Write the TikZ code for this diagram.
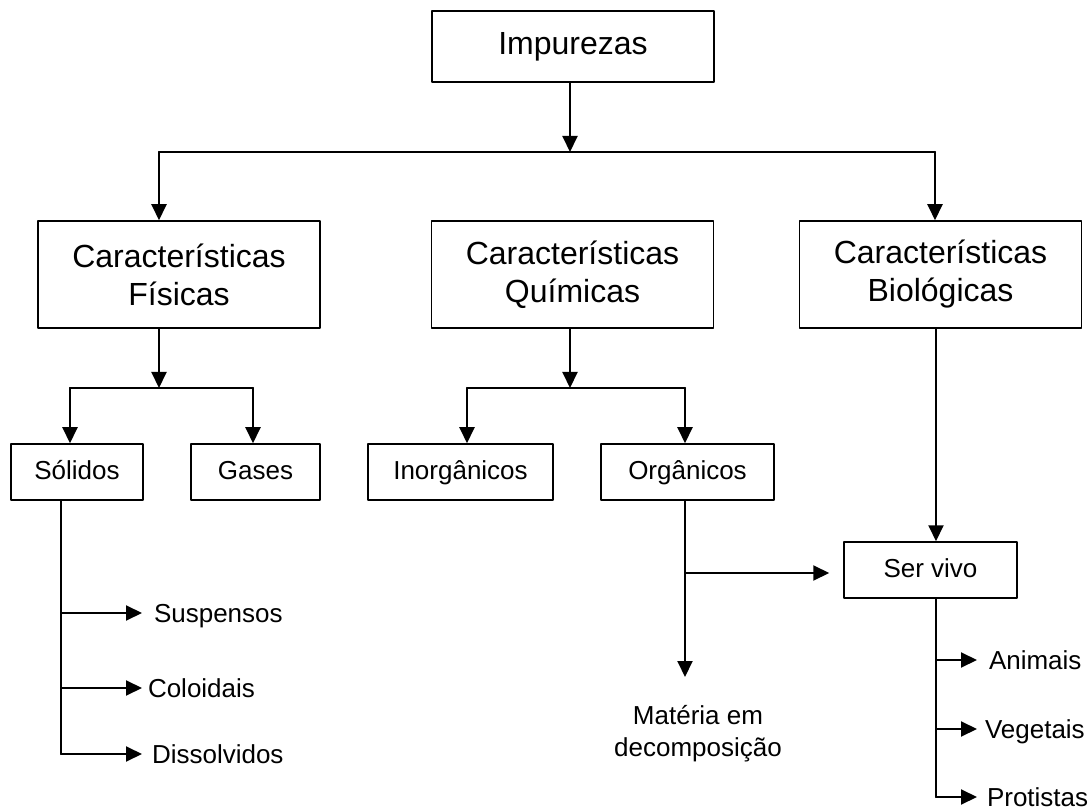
\documentclass[tikz,border=0pt]{standalone}
\usepackage{fontspec}
\setmainfont{Liberation Sans}
\usetikzlibrary{arrows.meta, calc}
\tikzset{
caixa/.style={draw, line width=1.5pt, inner sep=0pt, align=center},
grande/.style={caixa, minimum width=282pt, minimum height=107pt, font=\fontsize{32}{38}\selectfont},
pequena/.style={caixa, minimum height=56pt, text height=19pt, text depth=5pt},
folha/.style={anchor=west, inner sep=0pt, text height=19pt, text depth=0pt}
}
\begin{document}
\begin{tikzpicture}[x=1pt,y=-1pt,line join=round,line cap=round,line width=2pt,>={Triangle[length=16pt,width=15pt]},font=\fontsize{26}{32}\selectfont]
\useasboundingbox (0,0) rectangle (1088,810);
\path
(570,152) coordinate (J)
(159,152) coordinate (JF)
(935,152) coordinate (JB)
(159,388) coordinate (F)
(70,388) coordinate (FS)
(253,388) coordinate (FG)
(570,388) coordinate (Q)
(467,388) coordinate (QI)
(685,388) coordinate (QO)
(61,0) coordinate (ts)
(685,573) coordinate (to)
(685,677) coordinate (tm)
(936,0) coordinate (tv)
;
\node[grande, minimum height=71pt] (imp) at (573,46.5) {Impurezas};
\node[grande] (fis) at (179,274.5) {Características\\Físicas};
\node[grande] (qui) at (572.5,274.5) {Características\\Químicas};
\node[grande] (bio) at (940.5,274.5) {Características\\Biológicas};
\node[pequena, minimum width=132pt] (sol) at (77,472) {Sólidos};
\node[pequena, minimum width=129pt] (gas) at (255.5,472) {Gases};
\node[pequena, minimum width=185pt] (ino) at (460.5,472) {Inorgânicos};
\node[pequena, minimum width=173pt] (org) at (687.5,472) {Orgânicos};
\node[pequena, minimum width=173pt] (sv) at (930.5,570) {Ser vivo};
\node[align=center, anchor=north, inner sep=0pt] (mat) at (698,704) {Matéria em\\decomposição};
\draw[->] (imp.south -| J) -- (J);
\draw (JF) -- (JB);
\draw[->] (JF) -- (JF |- fis.north);
\draw[->] (JB) -- (JB |- bio.north);
\draw[->] (fis.south -| F) -- (F);
\draw (FS) -- (FG);
\draw[->] (FS) -- (FS |- sol.north);
\draw[->] (FG) -- (FG |- gas.north);
\draw[->] (qui.south -| Q) -- (Q);
\draw (QI) -- (QO);
\draw[->] (QI) -- (QI |- ino.north);
\draw[->] (QO) -- (QO |- org.north);
\draw[->] (org.south -| to) -- (tm);
\draw[->, shorten >=14pt] (to) -- (to -| sv.west);
\draw[->] (bio.south -| tv) -- (tv |- sv.north);
\draw (sol.south -| ts) -- (ts |- 0,754);
\foreach \y/\d/\txt in {613/11/Suspensos,688/5/Coloidais,754/9/Dissolvidos}
{\draw[->] (ts |- 0,\y) -- (142,\y) coordinate (p\y);
\node[folha, xshift=\d] (s\y) at (p\y) {\txt};}
\draw (sv.south -| tv) -- (tv |- 0,797);
\foreach \y/\d/\txt in {660/11/Animais,729/7/Vegetais,797/9/Protistas}
{\draw[->] (tv |- 0,\y) -- (977,\y) coordinate (q\y);
\node[folha, xshift=\d] (b\y) at (q\y) {\txt};}
\end{tikzpicture}
\end{document}
